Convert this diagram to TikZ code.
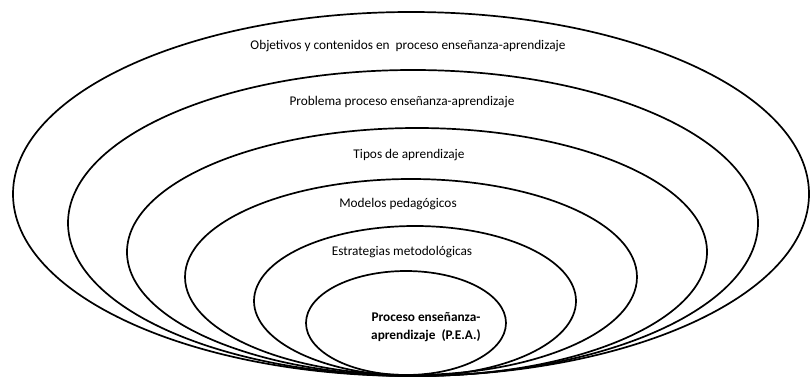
\documentclass[tikz,border=0pt]{standalone}
\usepackage{fontspec}
\setmainfont{Carlito}
\usetikzlibrary{shapes.geometric}
\tikzset{
	ring/.style={ellipse, draw=black, line width=1.7pt, inner sep=0pt},
	caption/.style={font=\fontsize{13.3}{16}\selectfont, inner sep=0pt}
}
\begin{document}
\begin{tikzpicture}[x=1pt,y=1pt]
	\useasboundingbox (0,0) rectangle (810,378);
	\node[ring, minimum width=796, minimum height=364] (1) at (411, 184) {};
	\node[ring, minimum width=690, minimum height=306] (2) at (413, 155) {};
	\node[ring, minimum width=580, minimum height=248] (3) at (417, 126) {};
	\node[ring, minimum width=452, minimum height=196] (4) at (411, 101) {};
	\node[ring, minimum width=322, minimum height=150] (5) at (415, 77) {};
	\node[ring, minimum width=200, minimum height=104] (6) at (406, 55) {};
	\node[caption] (t1) at (408, 332) {Objetivos y contenidos en \ proceso enseñanza-aprendizaje};
	\node[caption] (t2) at (402, 276) {Problema proceso enseñanza-aprendizaje};
	\node[caption] (t3) at (409, 223) {Tipos de aprendizaje};
	\node[caption] (t4) at (398, 174) {Modelos pedagógicos};
	\node[caption] (t5) at (402, 126) {Estrategias metodológicas};
	\node[caption, font=\fontsize{13.3}{18}\selectfont\bfseries, align=center] (t6) at (426, 51) {Proceso enseñanza-\\aprendizaje \ (P.E.A.)};
\end{tikzpicture}
\end{document}
